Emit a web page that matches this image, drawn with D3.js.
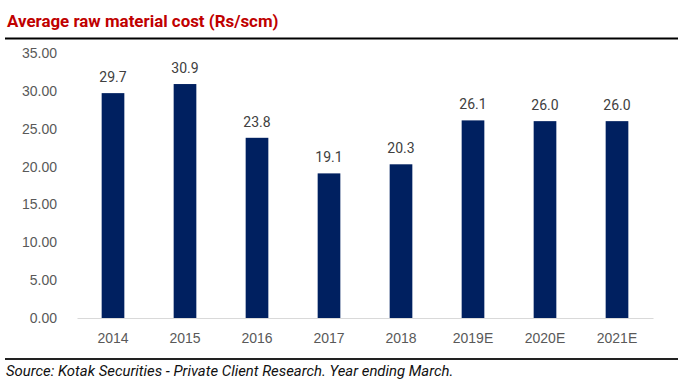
<!DOCTYPE html>
<html>
<head>
<meta charset="utf-8">
<script src="https://cdn.jsdelivr.net/npm/d3@7"></script>
<style>
  body { margin: 0; background: #fff; }
  svg { display: block; font-family: Roboto, "Liberation Sans", sans-serif; }
</style>
</head>
<body>
<script>
// data
var years = ["2014", "2015", "2016", "2017", "2018", "2019E", "2020E", "2021E"];
var costs = [29.7, 30.9, 23.8, 19.1, 20.3, 26.1, 26.0, 26.0];
var yTicks = [0, 5, 10, 15, 20, 25, 30, 35];

var w = 690, h = 380;
var plotLeft = 77, plotRight = 653, plotTop = 53, plotBottom = 318;

var svg = d3.select("body").append("svg")
  .attr("width", w)
  .attr("height", h);

// title + rules
svg.append("text")
  .attr("x", 7).attr("y", 27)
  .attr("fill", "#c00000")
  .style("font-size", "16.9px")
  .style("font-weight", "bold")
  .text("Average raw material cost (Rs/scm)");

svg.append("line")
  .attr("x1", 5).attr("x2", 678).attr("y1", 38.5).attr("y2", 38.5)
  .attr("stroke", "#000").attr("stroke-width", 2);

svg.append("line")
  .attr("x1", 5).attr("x2", 678).attr("y1", 359).attr("y2", 359)
  .attr("stroke", "#222").attr("stroke-width", 2);

svg.append("text")
  .attr("x", 6).attr("y", 376)
  .attr("fill", "#111")
  .style("font-size", "14.9px")
  .style("font-style", "italic")
  .text("Source: Kotak Securities - Private Client Research. Year ending March.");

// scales
var x = d3.scaleBand().domain(years).range([plotLeft, plotRight]).paddingInner(0.685).paddingOuter(0.3425);
var y = d3.scaleLinear().domain([0, 35]).range([plotBottom, plotTop]);

// y axis (labels only)
var yAxis = d3.axisLeft(y).tickValues(yTicks).tickFormat(d3.format(".2f")).tickSize(0).tickPadding(0);
var gy = svg.append("g").attr("transform", "translate(" + 57 + ",0)").call(yAxis);
gy.select(".domain").remove();
gy.selectAll("text").attr("fill", "#595959").style("font-size", "14px").attr("font-family", null);

// x axis
var xAxis = d3.axisBottom(x).tickSize(0).tickPadding(15);
var gx = svg.append("g").attr("transform", "translate(0," + plotBottom + ")").call(xAxis);
gx.select(".domain").attr("stroke", "#d9d9d9").attr("stroke-width", 1.2);
gx.selectAll("text").attr("fill", "#595959").style("font-size", "14px").attr("font-family", null);

// bars
svg.selectAll("rect.bar")
  .data(costs)
  .enter()
  .append("rect")
  .attr("class", "bar")
  .attr("x", function (d, i) { return x(years[i]); })
  .attr("width", x.bandwidth())
  .attr("y", function (d) { return y(d); })
  .attr("height", function (d) { return y(0) - y(d); })
  .attr("fill", "#002060");

// value labels
svg.selectAll("text.val")
  .data(costs)
  .enter()
  .append("text")
  .attr("class", "val")
  .attr("x", function (d, i) { return x(years[i]) + x.bandwidth() / 2; })
  .attr("y", function (d) { return y(d) - 11; })
  .attr("text-anchor", "middle")
  .attr("fill", "#404040")
  .style("font-size", "14px")
  .text(function (d) { return d.toFixed(1); });
</script>
</body>
</html>
